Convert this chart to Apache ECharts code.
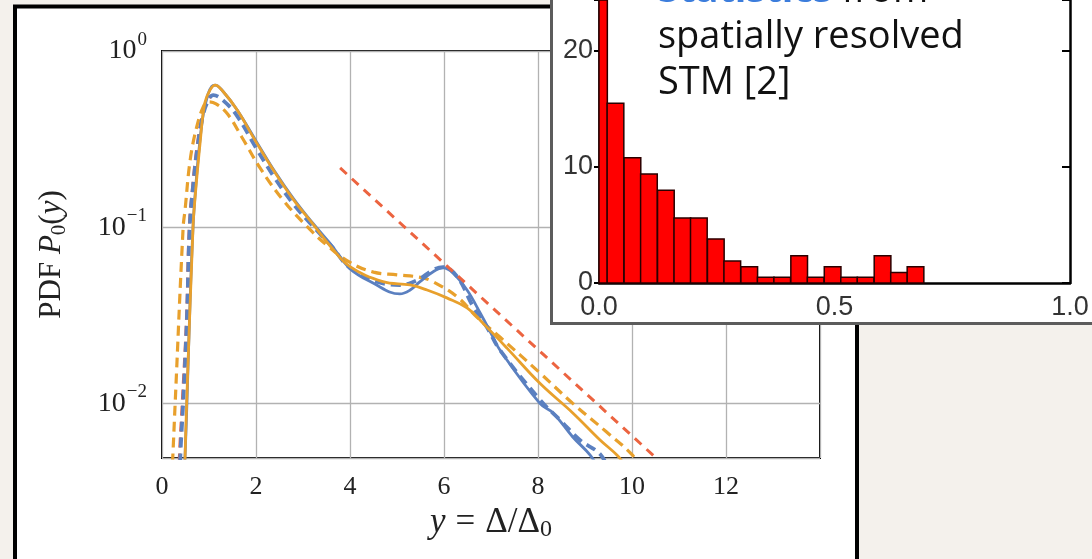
<!DOCTYPE html>
<html lang="en" style="height: 100%">
<head>
  <meta charset="utf-8">
  <title>PDF P0(y) with STM statistics inset</title>
  <script type="text/javascript" src="https://cdn.jsdelivr.net/npm/echarts@6/dist/echarts.min.js"></script>
</head>
<body style="height: 100%; margin: 0; background: #f4f1ec">
  <div id="chart" style="width: 1092px; height: 559px"></div>

  <script type="text/javascript">
    var dom = document.getElementById('chart');
    var myChart = echarts.init(dom);

    // main plot: PDF P0(y) against y = Delta/Delta0
    const blueSolid = [
      [0.45, 0.003], [0.49, 0.005], [0.53, 0.01], [0.60, 0.04], [0.66, 0.1], [0.71, 0.16],
      [0.79, 0.28], [0.88, 0.44], [0.98, 0.57], [1.06, 0.63], [1.13, 0.64], [1.3, 0.589],
      [1.6, 0.462], [2.0, 0.309], [2.4, 0.207], [2.8, 0.145], [3.2, 0.106], [3.6, 0.0794],
      [4.0, 0.0582], [4.49, 0.0482], [5.06, 0.0418], [5.28, 0.044], [5.49, 0.0491], [5.77, 0.0559],
      [5.98, 0.0587], [6.19, 0.055], [6.49, 0.044], [6.77, 0.0326], [7.04, 0.0239], [7.19, 0.0201],
      [8.04, 0.0100], [8.32, 0.00883], [8.74, 0.00645], [9.11, 0.00509], [9.3, 0.0042]
    ];
    const blueDashed = [
      [0.37, 0.003], [0.39, 0.005], [0.45, 0.01], [0.53, 0.03], [0.59, 0.1], [0.67, 0.18],
      [0.76, 0.29], [0.87, 0.43], [0.98, 0.52], [1.09, 0.562], [1.3, 0.525], [1.6, 0.427],
      [2.0, 0.282], [2.4, 0.19], [2.8, 0.135], [3.2, 0.102], [3.6, 0.0785], [4.0, 0.0587],
      [4.57, 0.0491], [5.06, 0.047], [5.43, 0.0501], [5.77, 0.0572], [5.98, 0.0594], [6.28, 0.0524],
      [6.62, 0.0354], [6.91, 0.0271], [7.19, 0.0201], [8.04, 0.0105], [8.47, 0.00805], [8.89, 0.0062],
      [9.32, 0.00516], [9.5, 0.0042]
    ];
    const orangeSolid = [
      [0.47, 0.003], [0.49, 0.0049], [0.525, 0.01], [0.66, 0.1], [0.70, 0.143], [0.81, 0.30],
      [0.91, 0.507], [1.02, 0.60], [1.13, 0.641], [1.3, 0.589], [1.6, 0.462], [2.0, 0.305],
      [2.4, 0.205], [2.8, 0.143], [3.2, 0.105], [3.6, 0.077], [4.0, 0.0597], [4.70, 0.0491],
      [5.28, 0.047], [5.64, 0.044], [6.06, 0.0397], [6.49, 0.0348], [6.91, 0.0271], [7.34, 0.0206],
      [8.04, 0.013], [8.74, 0.00883], [9.32, 0.0062], [9.70, 0.00503], [9.85, 0.0044]
    ];
    const orangeDashed = [
      [0.19, 0.003], [0.23, 0.005], [0.28, 0.01], [0.45, 0.1], [0.49, 0.125], [0.60, 0.241],
      [0.74, 0.372], [0.88, 0.483], [0.98, 0.515], [1.15, 0.501], [1.4, 0.437], [1.7, 0.324],
      [2.1, 0.214], [2.6, 0.140], [3.1, 0.100], [3.5, 0.0794], [4.0, 0.0631], [4.5, 0.0556],
      [5.0, 0.0537], [5.5, 0.0519], [5.77, 0.049], [6.28, 0.0403], [6.70, 0.0309], [7.19, 0.0238],
      [8.04, 0.0149], [8.74, 0.0100], [9.46, 0.00688], [9.99, 0.00516], [10.17, 0.0044]
    ];
    const redRise = [
      [0.35, 0.003], [0.37, 0.005], [0.43, 0.01], [0.52, 0.03], [0.58, 0.1], [0.66, 0.18],
      [0.74, 0.28], [0.85, 0.42], [0.96, 0.52], [1.06, 0.56]
    ];
    const redTail = [[3.79, 0.217], [10.55, 0.0048]];

    // inset: histogram from spatially resolved STM
    const binWidth = 0.0354;
    const binCenters = [0, 0.035, 0.071, 0.106, 0.142, 0.177, 0.212, 0.248, 0.283, 0.319,
                        0.354, 0.389, 0.425, 0.460, 0.496, 0.531, 0.566, 0.602, 0.637, 0.672];
    const binHeights = [32, 15.5, 10.8, 9.4, 8.0, 5.6, 5.6, 3.8, 1.9, 1.4,
                        0.5, 0.5, 2.35, 0.5, 1.4, 0.5, 0.5, 2.35, 0.9, 1.4];

    const serif = '"Liberation Serif", "DejaVu Serif", serif';
    const sans = '"Liberation Sans", Arial, sans-serif';
    const BLUE = '#5b80c0', ORANGE = '#e8a02c', RED = '#ec6440';

    function curve(data, color, dashed, width) {
      return {
        type: 'line', data: data, showSymbol: false, smooth: 0.4,
        xAxisIndex: 0, yAxisIndex: 0, silent: true,
        lineStyle: { color: color, width: width, type: dashed ? [10, 6] : 'solid' }
      };
    }

    function nameRich(size) {
      return {
        i: { fontFamily: serif, fontStyle: 'italic', fontSize: size, color: '#222' },
        n: { fontFamily: serif, fontSize: size, color: '#222' },
        eq: { fontFamily: serif, fontSize: size, color: '#222', padding: [0, 10] },
        sub: { fontFamily: serif, fontSize: Math.round(size * 0.68), color: '#222', padding: [15, 0, 0, 0] }
      };
    }

    let option = {
      backgroundColor: '#f4f1ec',
      animation: false,
      grid: [
        { left: 162, top: 51, width: 658, height: 407, show: true, borderColor: '#000', borderWidth: 2,
          outerBoundsMode: 'none' },
        { left: 599, top: 0, width: 471, height: 283, show: false, zlevel: 1, outerBoundsMode: 'none' }
      ],
      xAxis: [
        {
          type: 'value', gridIndex: 0, min: 0, max: 14, interval: 2,
          axisLine: { show: false }, axisTick: { show: false },
          splitLine: { lineStyle: { color: '#b2b2b2', width: 1.3 } },
          axisLabel: { margin: 16, fontFamily: serif, fontSize: 26, color: '#222',
                       formatter: v => (v === 14 ? '' : String(v)) },
          name: '{i|y}{eq|=}{n|Δ/Δ}{sub|0}', nameLocation: 'middle', nameGap: 45,
          nameTextStyle: { rich: nameRich(35) }
        },
        {
          type: 'value', gridIndex: 1, min: 0, max: 1, interval: 0.5, zlevel: 1, z: 5,
          axisLine: { show: true, onZero: false, lineStyle: { color: '#000', width: 2.5 } },
          axisTick: { show: false }, splitLine: { show: false },
          axisLabel: { margin: 11, fontFamily: sans, fontSize: 27, color: '#333',
                       formatter: v => v.toFixed(1) }
        }
      ],
      yAxis: [
        {
          type: 'log', logBase: 10, gridIndex: 0, min: 0.0049, max: 1,
          axisLine: { show: false }, axisTick: { show: false },
          splitLine: { lineStyle: { color: '#b2b2b2', width: 1.3 } },
          axisLabel: {
            margin: 15,
            formatter: function (v) {
              const e = Math.round(Math.log10(v));
              if (Math.abs(v / Math.pow(10, e) - 1) > 1e-6) return '';
              return '{b|10}{s|' + (e === 0 ? '0' : '−' + (-e)) + '}';
            },
            rich: {
              b: { fontFamily: serif, fontSize: 28, color: '#222' },
              s: { fontFamily: serif, fontSize: 19, color: '#222', padding: [0, 0, 22, 1] }
            }
          },
          name: '{n|PDF }{i|P}{sub|0}{n|(}{i|y}{n|)}', nameLocation: 'middle', nameGap: 92,
          nameTextStyle: { rich: nameRich(31) }
        },
        {
          type: 'value', gridIndex: 1, min: 0, max: 24.4, interval: 10, zlevel: 1, z: 5,
          axisLine: { show: true, onZero: false, lineStyle: { color: '#000', width: 2.5 } },
          splitLine: { show: false },
          axisTick: { show: true, length: 5, lineStyle: { color: '#000', width: 2 } },
          axisLabel: { margin: 6, fontFamily: sans, fontSize: 27, color: '#333',
                       formatter: v => (v % 10 === 0 ? String(v) : '') }
        },
        {
          type: 'value', gridIndex: 1, min: 0, max: 24.4, interval: 10, position: 'right', zlevel: 1, z: 5,
          axisLine: { show: true, onZero: false, lineStyle: { color: '#000', width: 2.5 } },
          splitLine: { show: false }, axisLabel: { show: false },
          axisTick: { show: true, inside: true, length: 8, lineStyle: { color: '#000', width: 2 } }
        }
      ],
      graphic: [
        { type: 'rect', zlevel: 0, z: -10, silent: true,
          shape: { x: 15, y: 6.5, width: 842, height: 580 },
          style: { fill: '#fff', stroke: '#000', lineWidth: 4 } },
        { type: 'rect', zlevel: 1, z: 0, silent: true,
          shape: { x: 551.5, y: -10, width: 600, height: 333.5 },
          style: { fill: '#fff', stroke: '#5c5c5c', lineWidth: 3 } },
        { type: 'text', zlevel: 1, z: 50, silent: true, x: 658, y: -9,
          style: { text: '{b|Statistics}{n| from}', verticalAlign: 'middle',
                   rich: { b: { font: 'bold 38px "Open Sans", sans-serif', fill: '#3c7ddc' },
                           n: { font: '38px "Open Sans", sans-serif', fill: '#111' } } } },
        { type: 'text', zlevel: 1, z: 50, silent: true, x: 658, y: 37,
          style: { text: 'spatially resolved', font: '38px "Open Sans", sans-serif', fill: '#111', verticalAlign: 'middle' } },
        { type: 'text', zlevel: 1, z: 50, silent: true, x: 658, y: 83,
          style: { text: 'STM [2]', font: '38px "Open Sans", sans-serif', fill: '#111', verticalAlign: 'middle' } }
      ],
      series: [
        curve(redRise, RED, true, 3),
        curve(orangeDashed, ORANGE, true, 3.2),
        curve(blueDashed, BLUE, true, 3.8),
        curve(blueSolid, BLUE, false, 2.8),
        curve(orangeSolid, ORANGE, false, 2.8),
        Object.assign(curve(redTail, RED, true, 3), { smooth: false, lineStyle: { color: RED, width: 3, type: [9, 7] } }),
        {
          type: 'custom', xAxisIndex: 1, yAxisIndex: 1, zlevel: 1, z: 10, silent: true,
          data: binCenters.map((c, i) => [c, binHeights[i]]),
          encode: { x: 0, y: 1 },
          renderItem: function (params, api) {
            const c = api.value(0), h = api.value(1);
            const p0 = api.coord([c - binWidth / 2, h]);
            const p1 = api.coord([c + binWidth / 2, 0]);
            const shape = echarts.graphic.clipRectByRect(
              { x: p0[0], y: p0[1], width: p1[0] - p0[0], height: p1[1] - p0[1] },
              { x: params.coordSys.x, y: params.coordSys.y,
                width: params.coordSys.width, height: params.coordSys.height });
            return shape && {
              type: 'rect', shape: shape,
              style: { fill: '#ff0000', stroke: '#2a0000', lineWidth: 1.5 }
            };
          }
        }
      ]
    };

    myChart.setOption(option);
  </script>
</body>
</html>
